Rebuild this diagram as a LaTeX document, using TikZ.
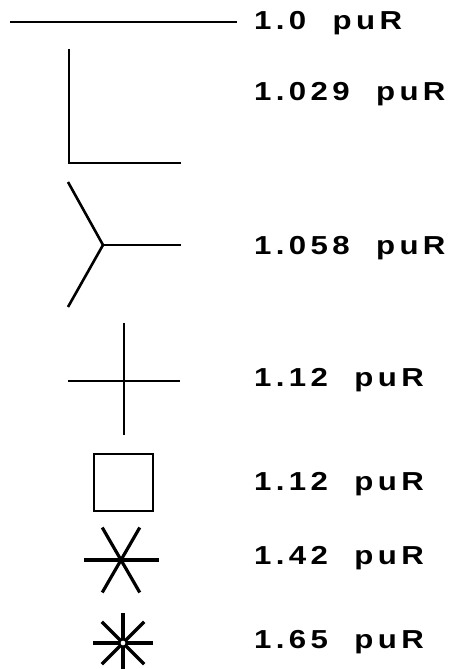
\documentclass[tikz,border=0pt]{standalone}
\usepackage{fontspec}
\usetikzlibrary{calc}
\setmainfont{Liberation Sans}[LetterSpace=14]
% value and unit, set in a letter-spaced, slightly extended bold sans
\newcommand{\pulabel}[1]{\scalebox{1.2}[1]{\bfseries #1\hspace{22pt}puR}}
\begin{document}
\begin{tikzpicture}[x=1pt,y=-1pt,
  sym/.style={line width=2.6pt,line cap=butt},
  starsym/.style={line width=3.2pt},
  lbl/.style={anchor=west,inner sep=0pt,font=\fontsize{26}{28}\selectfont}]
\useasboundingbox (0,0) rectangle (451,669);
% single line
\draw[sym] (10,22) -- (237,22);
\node[lbl] (l1) at (254,23) {\pulabel{1.0}};
% corner
\draw[sym] (69,49) -- (69,163) -- (181,163);
\node[lbl] (l2) at (254,94) {\pulabel{1.029}};
% three-armed fork
\coordinate (yc) at (103,245);
\draw[sym] (68,182) -- (yc) -- (68,307);
\draw[sym] (yc) -- (181,245);
\node[lbl] (l3) at (254,248) {\pulabel{1.058}};
% cross
\draw[sym] (124,323) -- (124,435);
\draw[sym] (68,381) -- (180,381);
\node[lbl] (l4) at (254,380) {\pulabel{1.12}};
% square
\draw[sym] (94,454) rectangle (153,511);
\node[lbl] (l5) at (254,484) {\pulabel{1.12}};
% six-armed star
\coordinate (s6) at (121,560);
\foreach \a in {0,60,120} \draw[starsym] ($(s6)+(\a:37.5)$) -- ($(s6)+(\a+180:37.5)$);
\node[lbl] (l6) at (254,558) {\pulabel{1.42}};
% eight-armed star with open centre
\coordinate (s8) at (123,643);
\foreach \a in {0,45,90,135} \draw[starsym] ($(s8)+(\a:30)$) -- ($(s8)+(\a+180:30)$);
\draw[line width=1.6pt,fill=white] (s8) circle (3.4);
\node[lbl] (l7) at (254,642) {\pulabel{1.65}};
\end{tikzpicture}
\end{document}
